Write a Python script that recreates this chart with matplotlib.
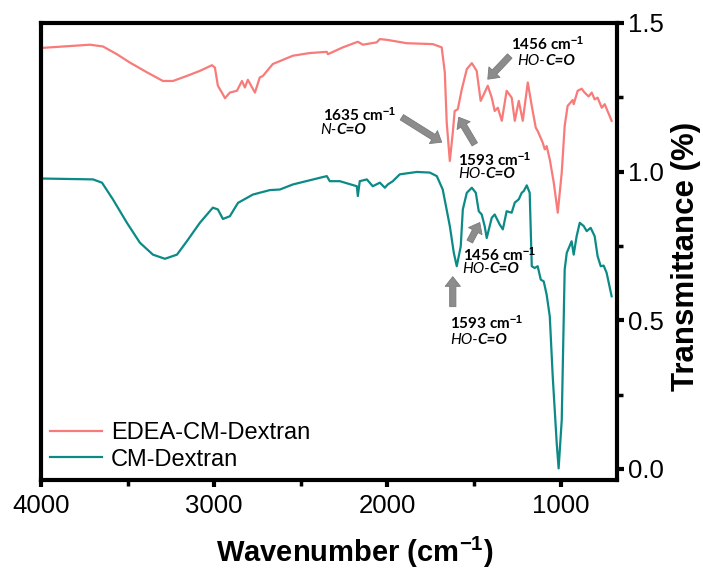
import matplotlib
matplotlib.use("Agg")
import matplotlib.pyplot as plt
from matplotlib.ticker import MultipleLocator

plt.rcParams['font.family'] = ['Liberation Sans', 'DejaVu Sans']
plt.rcParams['mathtext.fontset'] = 'custom'
plt.rcParams['mathtext.rm'] = 'Liberation Sans'
plt.rcParams['mathtext.bf'] = 'Liberation Sans:bold'
plt.rcParams['mathtext.it'] = 'Liberation Sans:italic'

# ---- data ----
edea_wn = [4000, 3717, 3642, 3562, 3487, 3388, 3296, 3238, 3158, 3083, 3013, 2996, 2979, 2950,
           2938, 2910, 2869, 2840, 2823, 2806, 2765, 2737, 2719, 2662, 2546, 2448, 2350, 2344,
           2258, 2171, 2142, 2062, 2044, 1998, 1889, 1738, 1687, 1669, 1658, 1640, 1623, 1612,
           1594, 1571, 1542, 1513, 1485, 1462, 1444, 1421, 1398, 1381, 1363, 1340, 1312, 1283,
           1265, 1242, 1219, 1190, 1167, 1144, 1133, 1104, 1092, 1081, 1063, 1040, 1017, 994,
           977, 960, 931, 925, 902, 879, 862, 839, 821, 804, 787, 763, 746, 706]
edea_t = [1.416, 1.427, 1.421, 1.395, 1.367, 1.334, 1.305, 1.305, 1.322, 1.339, 1.358, 1.350,
          1.289, 1.260, 1.247, 1.266, 1.272, 1.305, 1.283, 1.309, 1.266, 1.317, 1.322, 1.362,
          1.390, 1.399, 1.403, 1.395, 1.418, 1.437, 1.427, 1.435, 1.446, 1.443, 1.432, 1.429,
          1.418, 1.334, 1.165, 1.036, 1.131, 1.204, 1.210, 1.277, 1.345, 1.365, 1.339, 1.238,
          1.260, 1.289, 1.249, 1.204, 1.215, 1.171, 1.272, 1.249, 1.171, 1.238, 1.171, 1.300,
          1.221, 1.148, 1.137, 1.098, 1.075, 1.086, 1.041, 0.963, 0.862, 0.997, 1.154, 1.221,
          1.241, 1.227, 1.272, 1.279, 1.266, 1.253, 1.266, 1.243, 1.249, 1.215, 1.227, 1.171]

cm_wn = [4000, 3700, 3648, 3585, 3504, 3429, 3354, 3285, 3215, 3158, 3083, 3008, 2979, 2950,
         2910, 2863, 2777, 2679, 2621, 2546, 2379, 2350, 2333, 2275, 2177, 2171, 2160, 2119,
         2085, 2044, 2015, 1998, 1969, 1929, 1831, 1756, 1715, 1681, 1640, 1617, 1600, 1577,
         1565, 1542, 1513, 1490, 1473, 1456, 1439, 1427, 1398, 1381, 1352, 1334, 1312, 1283,
         1265, 1242, 1225, 1213, 1196, 1179, 1167, 1150, 1133, 1115, 1098, 1081, 1063, 1046,
         1023, 1012, 994, 977, 965, 937, 925, 908, 890, 867, 850, 827, 804, 787, 769, 752,
         735, 706]
cm_t = [0.977, 0.974, 0.963, 0.907, 0.828, 0.761, 0.721, 0.707, 0.721, 0.766, 0.828, 0.879,
        0.873, 0.841, 0.850, 0.895, 0.923, 0.938, 0.940, 0.957, 0.981, 0.985, 0.968, 0.968,
        0.951, 0.918, 0.968, 0.974, 0.951, 0.963, 0.946, 0.957, 0.968, 0.991, 0.999, 0.997,
        0.985, 0.940, 0.817, 0.727, 0.682, 0.749, 0.873, 0.929, 0.946, 0.929, 0.867, 0.856,
        0.817, 0.777, 0.845, 0.856, 0.822, 0.806, 0.867, 0.862, 0.896, 0.907, 0.929, 0.935,
        0.954, 0.929, 0.682, 0.676, 0.682, 0.637, 0.631, 0.586, 0.513, 0.311, 0.087, 0.002,
        0.165, 0.671, 0.727, 0.766, 0.721, 0.783, 0.828, 0.817, 0.800, 0.811, 0.783, 0.716,
        0.682, 0.684, 0.660, 0.581]

series_labels = ["EDEA-CM-Dextran", "CM-Dextran"]
x_ticks = [4000, 3000, 2000, 1000]
y_ticks = [0.0, 0.5, 1.0, 1.5]

RED = '#F87B7A'
TEAL = '#0B8A86'

fig = plt.figure(figsize=(7.03, 5.76), dpi=100)
ax = fig.add_axes([41/703, 1-480/576, (617-41)/703, (480-23)/576])

ax.plot(edea_wn, edea_t, color=RED, lw=1.6, label=series_labels[0],
        solid_joinstyle='round')
ax.plot(cm_wn, cm_t, color=TEAL, lw=1.6, label=series_labels[1],
        solid_joinstyle='round')

ax.set_xlim(4000, 675)
ax.set_ylim(-0.037, 1.5)

for s in ax.spines.values():
    s.set_linewidth(3)

ax.set_xticks(x_ticks)
ax.xaxis.set_minor_locator(MultipleLocator(500))
ax.yaxis.tick_right()
ax.yaxis.set_label_position('right')
ax.set_yticks(y_ticks)
ax.set_yticklabels(['0.0', '0.5', '1.0', '1.5'])
ax.yaxis.set_minor_locator(MultipleLocator(0.25))
ax.tick_params(axis='both', which='major', length=5, width=3, labelsize=18.5)
ax.tick_params(axis='both', which='minor', length=4, width=2.5)
ax.tick_params(axis='x', which='major', pad=5)
ax.tick_params(axis='y', which='major', pad=3)

ax.set_xlabel('Wavenumber (cm$^{\\mathbf{-1}}$)', fontsize=21, fontweight='bold',
              labelpad=12, x=0.545)
ax.set_ylabel('Transmittance (%)', fontsize=22.5, fontweight='bold', labelpad=5, y=0.49)

leg = ax.legend(loc='lower left', bbox_to_anchor=(0, 0), borderaxespad=0, borderpad=0.4,
                frameon=False, fontsize=17, handlelength=2.2, handletextpad=0.35,
                labelspacing=0.2)

AF = ['Lato', 'DejaVu Sans']
arrow_kw = dict(facecolor='#8c8c8c', edgecolor='#7a7a7a', lw=0.6, width=4.5,
                headwidth=11, headlength=7, shrink=0)


def label(x, y, num, ha='left'):
    ax.text(x, y, num + ' cm$^{\\mathbf{-1}}$', fontsize=11, fontweight='bold',
            family=AF, ha=ha, va='center')


def chem(x, y, prefix):
    t1 = ax.text(x, y, prefix, fontsize=11, style='italic', family=AF, ha='left', va='center')
    ax.annotate('C=O', xy=(1, 0), xycoords=t1, fontsize=11, style='italic',
                fontweight='bold', family=AF, ha='left', va='bottom')


def arrow(tail, head):
    ax.annotate('', xy=head, xytext=tail, arrowprops=arrow_kw)


# EDEA top 1456
label(1075, 1.429, '1456', ha='center')
chem(1248, 1.372, 'HO-')
arrow((1294, 1.389), (1421, 1.311))

# EDEA 1635
label(2160, 1.190, '1635', ha='center')
chem(2390, 1.140, 'N-')
arrow((1917, 1.183), (1687, 1.099))

# EDEA 1593
label(1594, 1.041, '1593')
chem(1594, 0.991, 'HO-')
arrow((1496, 1.092), (1589, 1.183))

# CM 1456
label(1565, 0.721, '1456')
chem(1571, 0.671, 'HO-')
arrow((1525, 0.765), (1467, 0.829))

# CM 1593
label(1640, 0.492, '1593')
chem(1640, 0.435, 'HO-')
arrow((1623, 0.546), (1623, 0.647))

fig.savefig('out.png', dpi=100)
